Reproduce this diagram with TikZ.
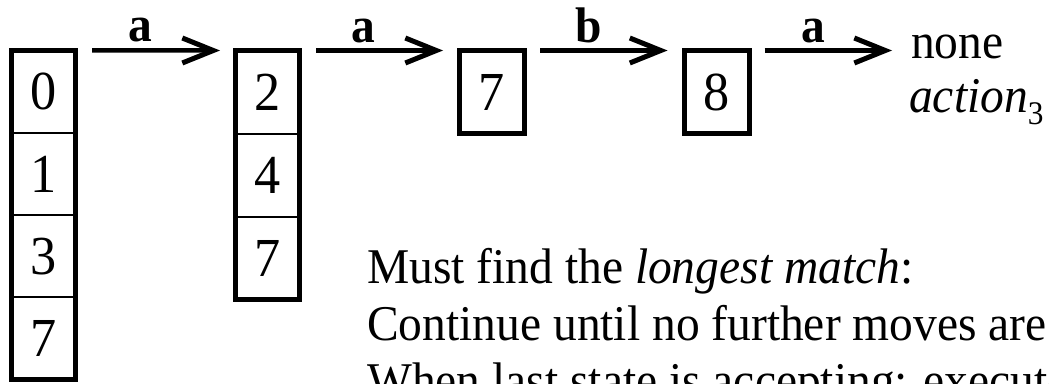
\documentclass[tikz,border=0pt]{standalone}
\usepackage{fontspec}
\setmainfont{Liberation Serif}[FakeStretch=0.95]
\usetikzlibrary{arrows.meta}
\begin{document}
\begin{tikzpicture}[x=1pt,y=-1pt,
  cell/.style={draw,line width=2pt,minimum width=64pt,inner sep=0pt,outer sep=0pt,font=\fontsize{55}{55}\selectfont},
  frame/.style={line width=5pt},
  sbox/.style={draw,line width=5pt,minimum width=65pt,minimum height=83pt,inner sep=0pt,outer sep=0pt,font=\fontsize{55}{55}\selectfont},
  move/.style={line width=4.5pt,-{Straight Barb[length=31pt,width=25pt,line width=5pt]}},
  lbl/.style={font=\fontsize{50}{50}\selectfont\bfseries,inner sep=0pt,anchor=base,yshift=8.5pt},
  txt/.style={font=\fontsize{50}{57}\selectfont,inner sep=0pt,anchor=base west}]
\useasboundingbox (0,0) rectangle (1049,383);
\clip (0,0) rectangle (1049,383);
% first set
\node[cell,minimum height=82.25pt] (a0) at (43.5,91.6) {0};
\node[cell,minimum height=82.25pt] (a1) at (43.5,173.9) {1};
\node[cell,minimum height=82.25pt] (a2) at (43.5,256.1) {3};
\node[cell,minimum height=82.25pt] (a3) at (43.5,338.4) {7};
\draw[frame] (a0.north west) rectangle (a3.south east);
% second set
\node[cell,minimum height=83pt] (b0) at (267.5,92) {2};
\node[cell,minimum height=83pt] (b1) at (267.5,175) {4};
\node[cell,minimum height=83pt] (b2) at (267.5,258) {7};
\draw[frame] (b0.north west) rectangle (b2.south east);
% single states
\node[sbox] (c0) at (492,92) {7};
\node[sbox] (d0) at (716.5,92) {8};
% results
\node[txt] (none) at (911,58) {none};
\node[txt] (act) at (909,112) {\textit{action}\raisebox{-0.24em}{\fontsize{33}{33}\selectfont 3}};
\coordinate (e4) at (892,50.5);
% moves
\draw[move] ([xshift=16.5pt]a0.north east) -- ([xshift=-15.5pt]b0.north west) node[lbl,pos=0.38] {a};
\draw[move] ([xshift=16.5pt]b0.north east) -- ([xshift=-16.5pt]c0.north west) node[lbl,pos=0.37] {a};
\draw[move] ([xshift=15.5pt]c0.north east) -- ([xshift=-16.5pt]d0.north west) node[lbl,pos=0.38] {b};
\draw[move] ([xshift=15.5pt]d0.north east) -- (e4) node[lbl,pos=0.38] {a};
% explanation
\node[txt] (m1) at (367,283) {Must find the \textit{longest match}:};
\node[txt] (m2) at (367,340) {Continue until no further moves are possible};
\node[txt] (m3) at (367,397) {When last state is accepting: execute action};
\end{tikzpicture}
\end{document}
